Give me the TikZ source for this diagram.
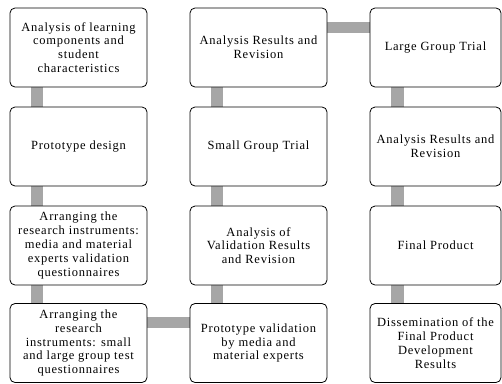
\documentclass[tikz,border=0pt]{standalone}
\usepackage{fontspec}
\setmainfont[LetterSpace=6]{Liberation Serif}
\usetikzlibrary{backgrounds}

\definecolor{barGray}{RGB}{166,166,166}
\tikzset{
  StepBox/.style={draw=black, line width=0.8pt, rounded corners=5pt, fill=white,
    minimum width=137pt, minimum height=79pt, inner sep=2pt, align=center,
    font=\fontsize{12.5}{13.8}\selectfont},
  BarStyle/.style={draw=barGray, line width=12.5pt},
}

\begin{document}
\begin{tikzpicture}[x=1pt,y=1pt]
            \useasboundingbox (0,0) rectangle (502,-383);

            \node[StepBox] (a1) at (78.5,-47.5) {Analysis of learning\\components and\\student\\characteristics};
            \node[StepBox] (a2) at (78.5,-146.5) {Prototype design};
            \node[StepBox] (a3) at (78.5,-245.5) {Arranging the\\research instruments:\\media and material\\experts validation\\questionnaires};
            \node[StepBox] (a4) at (78.5,-343) {Arranging the\\research\\instruments: small\\and large group test\\questionnaires};

            \node[StepBox] (b1) at (258.5,-47.5) {Analysis Results and\\Revision};
            \node[StepBox] (b2) at (258.5,-146.5) {Small Group Trial};
            \node[StepBox] (b3) at (258.5,-245.5) {Analysis of\\Validation Results\\and Revision};
            \node[StepBox] (b4) at (258.5,-343) {Prototype validation\\by media and\\material experts};

            \node[StepBox, minimum width=131pt] (c1) at (435.5,-47.5) {Large Group Trial};
            \node[StepBox, minimum width=131pt] (c2) at (435.5,-146.5) {Analysis Results and\\Revision};
            \node[StepBox, minimum width=131pt] (c3) at (435.5,-245.5) {Final Product};
            \node[StepBox, minimum width=131pt] (c4) at (435.5,-343) {Dissemination of the\\Final Product\\Development\\Results};

            \begin{scope}[on background layer]
              \draw[BarStyle] ([xshift=27.5pt]a1.south west) -- ([xshift=27.5pt]a2.north west);
              \draw[BarStyle] ([xshift=27.5pt]a2.south west) -- ([xshift=27.5pt]a3.north west);
              \draw[BarStyle] ([xshift=27.5pt]a3.south west) -- ([xshift=27.5pt]a4.north west);
              \draw[BarStyle, line width=11pt] ([yshift=-19pt]a4.north east) -- ([yshift=-19pt]b4.north west);

              \draw[BarStyle] ([xshift=27.5pt]b4.north west) -- ([xshift=27.5pt]b3.south west);
              \draw[BarStyle] ([xshift=27.5pt]b3.north west) -- ([xshift=27.5pt]b2.south west);
              \draw[BarStyle] ([xshift=27.5pt]b2.north west) -- ([xshift=27.5pt]b1.south west);
              \draw[BarStyle, line width=11pt] ([yshift=-19.5pt]b1.north east) -- ([yshift=-19.5pt]c1.north west);

              \draw[BarStyle] ([xshift=28pt]c1.south west) -- ([xshift=28pt]c2.north west);
              \draw[BarStyle] ([xshift=28pt]c2.south west) -- ([xshift=28pt]c3.north west);
              \draw[BarStyle] ([xshift=28pt]c3.south west) -- ([xshift=28pt]c4.north west);
            \end{scope}
          \end{tikzpicture}
\end{document}
